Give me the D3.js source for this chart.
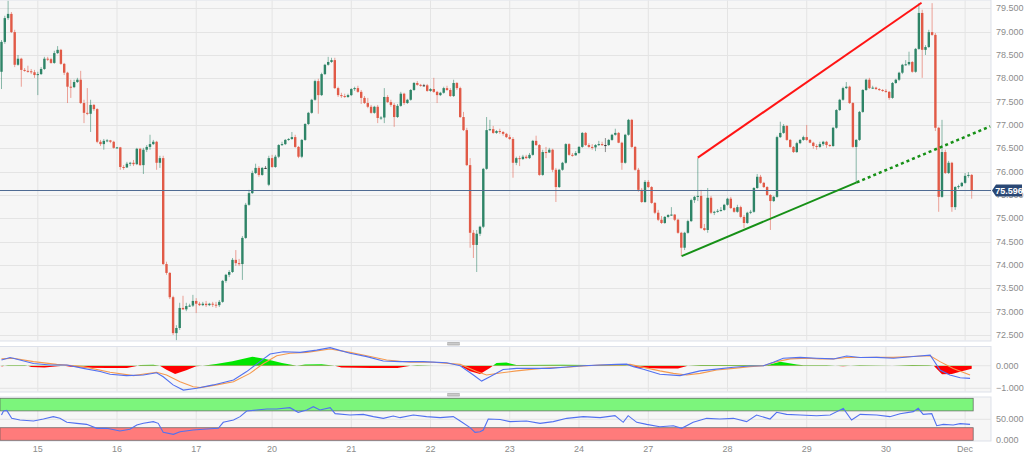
<!DOCTYPE html>
<html><head><meta charset="utf-8">
<script src="https://cdn.jsdelivr.net/npm/d3@7"></script>
<style>
html,body{margin:0;padding:0;background:#fff;}
svg{display:block;font-family:"Liberation Sans",Arial,sans-serif;}
</style></head><body>
<svg id="c" width="1024" height="455"></svg>
<script>
const openP = [
78.14,78.78,79.29,79.38,78.99,78.29,78.42,78.18,78.16,78.15,
78.13,78.07,78.09,78.20,78.42,78.41,78.33,78.54,78.61,78.31,
78.12,77.82,77.81,77.92,77.97,77.47,77.26,77.24,77.43,77.34,
76.64,76.59,76.66,76.67,76.64,76.51,76.52,76.10,76.09,76.17,
76.19,76.16,76.49,76.14,76.47,76.53,76.59,76.64,76.19,76.29,
74.02,73.83,73.31,72.54,72.65,73.08,73.05,73.12,73.13,73.23,
73.17,73.14,73.17,73.14,73.17,73.15,73.14,73.21,73.66,73.79,
73.85,74.11,74.04,74.02,74.58,75.29,75.54,75.97,76.08,75.93,
76.08,75.72,76.29,76.10,76.32,76.57,76.59,76.68,76.70,76.74,
76.53,76.32,76.68,77.02,77.26,77.54,77.94,77.64,78.09,78.29,
78.35,78.39,77.79,77.64,77.62,77.60,77.64,77.77,77.79,77.71,
77.58,77.47,77.39,77.26,77.39,77.15,77.16,77.60,77.49,77.43,
77.17,77.41,77.67,77.47,77.54,77.75,77.90,77.86,77.85,77.85,
77.73,77.77,77.71,77.64,77.69,77.79,77.75,77.62,77.90,77.79,
77.17,76.89,76.14,74.69,74.43,74.67,74.82,76.06,76.89,76.91,
76.83,76.87,76.85,76.81,76.74,76.70,76.19,76.29,76.27,76.32,
76.29,76.36,76.66,76.57,75.93,76.42,76.41,76.47,76.04,75.67,
76.04,76.19,76.59,76.36,76.35,76.40,76.53,76.83,76.57,76.53,
76.52,76.57,76.59,76.57,76.57,76.68,76.79,76.83,76.62,76.19,
76.79,77.11,76.53,76.04,75.61,75.35,75.78,75.67,75.33,75.12,
74.97,74.90,75.03,75.07,75.08,74.97,74.69,74.37,74.69,74.94,
75.39,75.46,75.48,74.79,74.75,75.44,75.12,75.14,75.16,75.18,
75.29,75.42,75.22,75.14,75.24,75.03,74.90,75.12,75.14,75.65,
75.89,75.76,75.67,75.50,75.37,75.46,76.74,76.83,76.98,76.68,
76.53,76.42,76.61,76.68,76.74,76.68,76.62,76.55,76.53,76.59,
76.64,76.57,76.55,76.94,77.32,77.54,77.79,77.82,77.47,76.53,
76.68,77.28,77.75,77.97,77.79,77.80,77.77,77.75,77.73,77.71,
77.58,77.90,77.97,78.12,78.29,78.30,78.35,78.14,78.63,79.40,
78.61,78.67,78.99,78.93,76.94,75.46,76.42,75.97,76.19,75.24,
75.67,75.69,75.76,75.91,75.93];
const highP = [
78.82,79.34,79.66,79.42,79.04,78.50,78.44,78.22,78.27,78.20,
78.18,78.14,78.24,78.46,78.46,78.44,78.59,78.69,78.63,78.33,
78.14,77.97,77.97,78.01,78.16,77.54,77.79,77.54,77.45,77.36,
76.68,76.70,76.70,76.68,76.66,76.53,76.53,76.14,76.21,76.21,
76.25,76.51,76.51,76.51,76.57,76.79,76.68,76.66,76.34,76.34,
74.07,73.85,73.34,72.71,73.19,73.34,73.19,73.17,73.36,73.29,
73.21,73.21,73.23,73.19,73.21,73.21,73.25,73.68,73.81,73.89,
74.15,74.32,74.13,74.62,75.33,75.61,76.02,76.17,76.12,76.10,
76.12,76.34,76.36,76.36,76.59,76.64,76.70,76.72,76.85,76.79,
76.55,76.70,77.04,77.28,77.56,77.97,77.99,78.12,78.31,78.46,
78.44,78.44,77.82,77.69,77.67,77.67,77.79,77.82,77.84,77.75,
77.62,77.58,77.43,77.41,77.43,77.19,77.79,77.64,77.54,77.47,
77.45,77.71,77.69,77.56,77.77,77.92,77.94,77.88,77.88,77.88,
77.79,78.01,77.73,77.71,77.82,77.84,77.79,77.97,77.92,77.82,
77.28,76.94,76.29,74.75,74.75,74.84,76.08,77.17,77.11,76.98,
76.89,76.92,76.87,76.83,76.79,76.74,76.32,76.34,76.36,76.36,
76.40,76.68,76.77,76.59,76.47,76.53,76.51,76.49,76.08,76.06,
76.21,76.61,76.61,76.40,76.44,76.55,76.85,76.85,76.61,76.59,
76.59,76.66,76.64,76.72,76.70,76.81,76.92,76.85,76.64,76.81,
77.13,77.13,76.55,76.08,75.65,75.82,75.82,75.69,75.35,75.18,
75.05,75.05,75.09,75.24,75.09,74.99,74.71,74.71,74.97,75.42,
75.48,76.29,75.61,74.88,75.65,75.48,75.16,75.20,75.24,75.31,
75.44,75.46,75.24,75.29,75.27,75.07,75.14,75.18,75.67,75.95,
75.93,75.78,75.69,75.52,75.48,76.77,77.07,77.02,77.00,76.70,
76.55,76.64,76.70,76.77,77.00,76.70,76.64,76.59,76.64,76.66,
76.66,76.59,76.96,77.34,77.56,77.82,77.92,77.84,77.49,76.70,
77.30,77.77,77.99,78.01,77.84,77.82,77.79,77.77,77.77,77.73,
77.92,77.99,78.14,78.31,78.39,78.57,78.37,78.65,79.61,79.47,
78.71,79.04,79.61,78.97,76.96,77.11,76.47,76.23,76.21,75.69,
75.72,75.78,75.97,75.99,75.95];
const lowP = [
77.77,78.74,79.25,78.97,78.24,78.27,77.82,78.14,78.12,78.09,
78.01,77.64,78.07,78.18,78.37,78.31,78.31,78.52,78.29,78.07,
77.47,77.58,77.79,77.90,77.45,77.04,77.21,76.85,77.30,76.61,
76.55,76.47,76.63,76.61,76.49,76.49,76.04,76.04,76.08,76.12,
76.12,76.14,76.12,75.95,76.42,76.47,76.57,76.04,76.08,74.00,
73.79,73.27,72.50,72.39,72.61,73.04,73.01,73.10,73.10,72.97,
73.12,73.12,73.10,73.12,73.10,73.08,73.10,73.19,73.62,73.74,
73.83,73.98,73.98,73.68,74.56,75.27,75.52,75.95,75.89,75.91,
76.06,75.69,76.08,76.08,76.29,76.55,76.57,76.66,76.68,76.51,
76.29,76.29,76.66,77.00,77.24,77.52,77.24,77.62,78.07,78.27,
78.33,77.77,77.60,77.58,77.58,77.58,77.62,77.73,77.69,77.45,
77.45,77.36,77.24,77.24,77.04,77.11,77.04,77.47,77.39,76.96,
77.15,77.39,77.43,77.45,77.52,77.73,77.84,77.82,77.82,77.71,
77.71,77.69,77.47,77.62,77.67,77.73,77.60,77.60,77.75,77.15,
76.87,76.12,74.37,74.15,73.85,74.62,74.79,76.04,76.87,76.81,
76.81,76.81,76.77,76.72,76.68,75.87,76.14,76.12,76.25,76.27,
76.27,76.34,76.55,75.91,75.91,76.29,76.40,75.99,75.35,75.65,
76.02,76.17,76.34,76.32,76.34,76.38,76.51,76.55,76.51,76.47,
76.44,76.55,76.55,76.42,76.55,76.66,76.77,76.61,76.04,76.17,
76.77,76.51,76.02,75.57,75.33,75.33,75.65,75.31,75.09,74.94,
74.88,74.88,75.01,75.05,74.94,74.67,74.19,74.32,74.67,74.92,
75.33,75.37,74.77,74.73,74.69,75.09,75.07,75.12,75.14,75.16,
75.27,75.20,75.12,75.12,75.01,74.79,74.88,75.09,75.12,75.63,
75.74,75.65,75.48,74.75,75.35,75.44,76.72,76.81,76.66,76.51,
76.40,76.40,76.59,76.66,76.66,76.61,76.49,76.47,76.51,76.55,
76.51,76.53,76.53,76.92,77.30,77.52,77.77,77.45,76.51,75.76,
76.66,77.26,77.73,77.77,77.77,77.75,77.73,77.71,77.69,77.54,
77.56,77.88,77.94,78.09,78.27,78.27,78.12,78.12,78.61,78.01,
78.50,78.65,78.91,76.87,75.14,75.44,75.95,75.95,75.14,75.18,
75.63,75.67,75.74,75.87,75.42];
const closeP = [
78.78,79.29,79.38,78.99,78.29,78.42,78.18,78.16,78.15,78.13,
78.07,78.09,78.20,78.42,78.41,78.33,78.54,78.61,78.31,78.12,
77.82,77.81,77.92,77.97,77.47,77.26,77.24,77.43,77.34,76.64,
76.59,76.66,76.67,76.64,76.51,76.52,76.10,76.09,76.17,76.19,
76.16,76.49,76.14,76.47,76.53,76.59,76.64,76.19,76.29,74.02,
73.83,73.31,72.54,72.65,73.08,73.05,73.12,73.13,73.23,73.17,
73.14,73.17,73.14,73.17,73.15,73.14,73.21,73.66,73.79,73.85,
74.11,74.04,74.02,74.58,75.29,75.54,75.97,76.08,75.93,76.08,
76.08,76.29,76.10,76.32,76.57,76.59,76.68,76.70,76.74,76.53,
76.32,76.68,77.02,77.26,77.54,77.94,77.64,78.09,78.29,78.35,
78.39,77.79,77.64,77.62,77.60,77.64,77.77,77.79,77.71,77.58,
77.47,77.39,77.26,77.39,77.15,77.16,77.60,77.49,77.43,77.17,
77.41,77.67,77.47,77.54,77.75,77.90,77.86,77.85,77.85,77.73,
77.77,77.71,77.64,77.69,77.79,77.75,77.62,77.90,77.79,77.17,
76.89,76.14,74.69,74.43,74.67,74.82,76.06,76.89,76.91,76.83,
76.87,76.85,76.81,76.74,76.70,76.19,76.29,76.27,76.32,76.29,
76.36,76.66,76.57,75.93,76.42,76.41,76.47,76.04,75.67,76.04,
76.19,76.59,76.36,76.35,76.40,76.53,76.83,76.57,76.53,76.52,
76.57,76.59,76.57,76.57,76.68,76.79,76.83,76.62,76.19,76.79,
77.11,76.53,76.04,75.61,75.35,75.78,75.67,75.33,75.12,74.97,
74.90,75.03,75.07,75.08,74.97,74.69,74.37,74.69,74.94,75.39,
75.46,75.48,74.79,74.75,75.44,75.12,75.14,75.16,75.18,75.29,
75.42,75.22,75.14,75.24,75.03,74.90,75.12,75.14,75.65,75.89,
75.76,75.67,75.50,75.37,75.46,76.74,76.83,76.98,76.68,76.53,
76.42,76.61,76.68,76.74,76.68,76.62,76.55,76.53,76.59,76.64,
76.57,76.55,76.94,77.32,77.54,77.79,77.82,77.47,76.53,76.68,
77.28,77.75,77.97,77.79,77.80,77.77,77.75,77.73,77.71,77.58,
77.90,77.97,78.12,78.29,78.30,78.35,78.14,78.63,79.40,78.61,
78.67,78.99,78.93,76.94,75.46,76.42,75.97,76.19,75.24,75.67,
75.69,75.76,75.91,75.93,75.596];

const dayTickIdx = [11,35,59,82,106,130,154,175,196,220,244,268,292];
const dayTickLabels = ["15","16","17","20","21","22","23","24","27","28","29","30","Dec"];
const priceTicks = [72.5,73,73.5,74,74.5,75,75.5,76,76.5,77,77.5,78,78.5,79,79.5];
const macdTicks = [0,-1];
const rsiTicks = [50,0];
const lastPrice = 75.596;

// trend lines: [candle index, price]
const upperLine = [[211,76.30],[278.8,79.62]];
const lowerLine = [[206.1,74.19],[259.15,75.77]];
const lowerExt = [[259.15,75.77],[299.6,76.97]];

const macdLine = [[0,0.25],[2.6,0.36],[5.6,0.25],[9.7,0.10],[14.7,0.03],[19.8,0.03],[24.8,-0.12],[29.9,-0.26],[32.9,-0.38],[37.9,-0.44],[43,-0.41],[47,-0.31],[49,-0.49],[52,-0.85],[55.1,-1.08],[59.2,-1.00],[64.2,-0.85],[70.3,-0.63],[74.3,-0.26],[78.3,0.18],[81.4,0.52],[85.4,0.62],[90.5,0.59],[95.5,0.69],[99.6,0.80],[105.6,0.55],[110.7,0.40],[115.7,0.21],[120.8,0.18],[127.8,0.18],[134.9,0.13],[139,0],[143,-0.41],[145.5,-0.68],[148,-0.49],[152,-0.17],[156.1,-0.12],[161.2,-0.12],[166.2,-0.12],[171.3,-0.06],[176.3,0],[181.4,0.03],[186.4,0.06],[189.4,0.07],[191.5,-0.04],[194.5,-0.16],[199.5,-0.38],[205.6,-0.44],[211.7,-0.23],[216.7,-0.15],[221.8,-0.07],[226.8,-0.01],[230.9,0],[233.9,0.15],[236.9,0.33],[242,0.37],[247,0.33],[252.1,0.30],[256.1,0.43],[260.2,0.36],[265.2,0.37],[270.3,0.33],[277.3,0.42],[281.4,0.47],[282.4,0.25],[284.4,-0.19],[287.4,-0.41],[290.5,-0.53],[293.5,-0.56]];
const signalLine = [[0,0.30],[3.6,0.33],[9.7,0.18],[16.7,0.06],[24.8,-0.04],[32.9,-0.29],[40,-0.44],[47,-0.29],[50,-0.41],[54.1,-0.71],[58.1,-0.93],[60.2,-0.97],[65.2,-0.85],[70.3,-0.71],[75.3,-0.34],[79.4,0.10],[83.4,0.44],[87.4,0.55],[92.5,0.59],[99.6,0.74],[105.6,0.59],[110.7,0.44],[116.7,0.25],[123.8,0.15],[130.9,0.15],[139,0.06],[144,-0.26],[147,-0.41],[151.1,-0.32],[156.1,-0.23],[161.2,-0.15],[166.2,-0.09],[171.3,-0.07],[176.3,-0.01],[181.4,0.03],[186.4,0.03],[190.5,0.06],[193.5,-0.04],[199.5,-0.23],[203.6,-0.34],[207.6,-0.41],[211.7,-0.34],[216.7,-0.19],[221.8,-0.12],[226.8,-0.04],[230.9,0],[234.9,0.18],[239,0.30],[244,0.33],[248,0.30],[252.1,0.30],[256.1,0.36],[260.2,0.36],[265.2,0.37],[270.3,0.37],[277.3,0.42],[281.4,0.44],[284.4,0.18],[288.4,-0.12],[293.5,-0.41]];
const histSamples = [[0,-0.03],[1,0],[2,0.02],[7,0.02],[8,0],[9,-0.06],[13,-0.08],[17,-0.02],[19,0],[21,-0.05],[26,-0.09],[32,-0.10],[38,-0.10],[41,-0.01],[42,0.03],[46,0.04],[48,0],[50,-0.18],[52.6,-0.37],[56,-0.2],[59,-0.02],[61,0],[65,0.07],[70,0.2],[76,0.40],[80,0.3],[85,0.12],[89.5,0],[92,0.05],[97,0.06],[101,0],[103,-0.08],[112,-0.10],[120,-0.10],[124,0],[126,0.02],[131,0],[139,0],[142,-0.25],[145,-0.37],[148,-0.1],[150,0.12],[153,0.14],[156,0.03],[170,0.04],[178,0.03],[189,0.02],[191,0],[193,-0.09],[200,-0.12],[205,-0.12],[208,0],[212,0.03],[225,0.03],[232,0.02],[236,0.18],[241,0.05],[243,0.02],[250,0.02],[255,-0.02],[260,0.02],[270,0],[276,0.03],[281,0.02],[282.5,0],[285,-0.38],[288,-0.37],[291,-0.25],[294,-0.14]];
const rsiLine = [[0,60.2],[0.6,69.7],[1.6,71.3],[3.1,52.3],[5.6,48.3],[9.7,45.9],[12.7,50.7],[15.7,56.3],[17.7,52.3],[19.8,42.8],[22.8,40.4],[25.8,38.0],[28.9,28.5],[31.9,28.5],[35.9,22.1],[38.9,26.1],[41,36.4],[43,40.4],[46,44.4],[47.5,40.4],[49,19.0],[52.1,14.2],[54.1,20.5],[58.1,24.5],[62.2,26.9],[65.7,28.5],[67.2,42.8],[70.3,48.3],[72.3,56.3],[74.3,69.7],[77.3,72.1],[80.4,74.5],[83.4,74.5],[87.4,77.7],[89.9,66.6],[92.5,72.1],[94.5,80.1],[96.5,72.1],[99.6,77.7],[101.1,63.4],[105.6,60.2],[109.6,61.8],[112.7,56.3],[115.7,52.3],[118.7,57.8],[120.8,53.9],[124.8,60.2],[128.8,56.3],[132.9,53.9],[136.9,56.3],[139,45.9],[142,30.1],[143.5,19.0],[145,20.5],[146,24.5],[147.5,50.7],[151.1,49.5],[154.1,44.4],[159.1,45.9],[163.2,40.4],[167.2,44.4],[171.3,52.3],[176.3,56.3],[181.4,53.9],[185.9,58.6],[188.4,42.8],[189.9,58.6],[192.5,42.8],[195.5,38.0],[199.5,32.4],[203.6,34.8],[206.1,28.5],[209.6,42.8],[213.7,52.3],[217.7,50.7],[221.8,52.3],[225.8,44.4],[228.8,60.2],[232.9,50.7],[234.9,66.6],[237.9,61.8],[242,60.2],[247,58.6],[251.1,60.2],[255.1,76.1],[257.6,48.3],[260.2,61.8],[265.2,60.2],[269.2,56.3],[272.3,63.4],[276.3,68.2],[277.8,76.1],[279.3,61.8],[281.9,63.4],[283.4,34.8],[285.4,38.0],[288.4,36.4],[290.5,39.6],[293.5,38.0]];
const rsiBands = [[70,100,"#7cf57c"],[0,30,"#ff7b7b"]];

// ---------------- drawing ----------------
const svg = d3.select("#c");
const PR = 991;
const mainP = {top:0,bottom:341};
const macdP = {top:346.5,bottom:392};
const rsiP = {top:397,bottom:441};
const n = closeP.length;
const x = d3.scaleLinear().domain([0,294]).range([1.5,971.7]);
const y = d3.scaleLinear().domain([72.5,79.5]).range([335,8.3]);
const ym = d3.scaleLinear().domain([-1,0]).range([388.3,365.7]);
const yr = d3.scaleLinear().domain([0,100]).range([440.3,398.3]);
const UP="#2e8467", DN="#e15a47", GRID="#e4e4e4", LBL="#8c8c8c";

const defs = svg.append("defs");
[["cMain",mainP],["cMacd",macdP],["cRsi",rsiP]].forEach(([id,p])=>{
  defs.append("clipPath").attr("id",id).append("rect").attr("x",0).attr("y",p.top).attr("width",PR).attr("height",p.bottom-p.top);
});
defs.append("clipPath").attr("id","cPos").append("rect").attr("x",0).attr("y",macdP.top).attr("width",PR).attr("height",ym(0)-macdP.top);
defs.append("clipPath").attr("id","cNeg").append("rect").attr("x",0).attr("y",ym(0)).attr("width",PR).attr("height",macdP.bottom-ym(0));

[mainP,macdP,rsiP].forEach(p=>{
  svg.append("rect").attr("x",-1).attr("y",p.top).attr("width",PR+1).attr("height",p.bottom-p.top)
    .attr("fill","#f6f6f6").attr("stroke","#dde1ea").attr("stroke-width",1);
});

// grips
[343.7,394.7].forEach(gy=>{
  svg.append("rect").attr("x",447).attr("y",gy-1.8).attr("width",13).attr("height",3.6).attr("rx",1).attr("fill","#b9b9b9");
  svg.append("line").attr("x1",447).attr("x2",460).attr("y1",gy).attr("y2",gy).attr("stroke","#dedede").attr("stroke-width",0.6);
});

// vertical day gridlines
[mainP,macdP,rsiP].forEach(p=>{
  svg.append("g").selectAll("line").data(dayTickIdx).join("line")
    .attr("x1",d=>x(d)).attr("x2",d=>x(d)).attr("y1",p.top+0.5).attr("y2",p.bottom-0.5)
    .attr("stroke",GRID).attr("stroke-width",1);
});
// horizontal price gridlines
svg.append("g").selectAll("line").data(priceTicks).join("line")
  .attr("x1",0).attr("x2",PR).attr("y1",d=>Math.round(y(d))+0.5).attr("y2",d=>Math.round(y(d))+0.5)
  .attr("stroke",GRID).attr("stroke-width",1);
svg.append("g").selectAll("line").data(macdTicks).join("line")
  .attr("x1",0).attr("x2",PR).attr("y1",d=>ym(d)).attr("y2",d=>ym(d)).attr("stroke",GRID);
svg.append("g").selectAll("line").data(rsiTicks.filter(d=>d>0)).join("line")
  .attr("x1",0).attr("x2",PR).attr("y1",d=>yr(d)).attr("y2",d=>yr(d)).attr("stroke",GRID);

// candles
const gC = svg.append("g").attr("clip-path","url(#cMain)");
const idx = d3.range(n);
const col = i => closeP[i]>openP[i]?UP:(closeP[i]<openP[i]?DN:"#333");
gC.selectAll("line.w").data(idx).join("line").attr("class","w")
  .attr("x1",i=>x(i)).attr("x2",i=>x(i)).attr("y1",i=>y(highP[i])).attr("y2",i=>y(lowP[i]))
  .attr("stroke",col).attr("stroke-opacity",0.55).attr("stroke-width",1);
gC.selectAll("rect.b").data(idx).join("rect").attr("class","b")
  .attr("x",i=>x(i)-1.2).attr("width",2.4)
  .attr("y",i=>y(Math.max(openP[i],closeP[i])))
  .attr("height",i=>Math.max(1,Math.abs(y(openP[i])-y(closeP[i]))))
  .attr("fill",col);

// current price line
svg.append("line").attr("x1",0).attr("x2",PR).attr("y1",y(lastPrice)).attr("y2",y(lastPrice))
  .attr("stroke","#4f6b93").attr("stroke-width",1);

// trend lines
const tl = d3.line().x(d=>x(d[0])).y(d=>y(d[1]));
const gT = svg.append("g").attr("clip-path","url(#cMain)");
gT.append("path").attr("d",tl(upperLine)).attr("stroke","#ff1414").attr("stroke-width",2).attr("fill","none");
gT.append("path").attr("d",tl(lowerLine)).attr("stroke","#169016").attr("stroke-width",2).attr("fill","none");
gT.append("path").attr("d",tl(lowerExt)).attr("stroke","#169016").attr("stroke-width",2.5).attr("stroke-dasharray","3,3").attr("fill","none");

// MACD histogram
const ha = d3.area().x(d=>x(d[0])).y0(ym(0)).y1(d=>ym(d[1]));
const gM = svg.append("g").attr("clip-path","url(#cMacd)");
gM.append("g").attr("clip-path","url(#cPos)").append("path").attr("d",ha(histSamples)).attr("fill","#00e600");
gM.append("g").attr("clip-path","url(#cNeg)").append("path").attr("d",ha(histSamples)).attr("fill","#ff0000");
const ml = d3.line().x(d=>x(d[0])).y(d=>ym(d[1]));
gM.append("path").attr("d",ml(signalLine)).attr("stroke","#f59a4e").attr("stroke-width",1.1).attr("fill","none");
gM.append("path").attr("d",ml(macdLine)).attr("stroke","#5271f0").attr("stroke-width",1.1).attr("fill","none");

// RSI
const gR = svg.append("g").attr("clip-path","url(#cRsi)");
rsiBands.forEach(([a,b,c])=>{
  gR.append("rect").attr("x",0).attr("width",x(294)+1.5).attr("y",yr(b)).attr("height",yr(a)-yr(b))
    .attr("fill",c).attr("stroke","#555").attr("stroke-width",0.8).attr("stroke-opacity",0.8);
});
const rl = d3.line().x(d=>x(d[0])).y(d=>yr(d[1]));
gR.append("path").attr("d",rl(rsiLine)).attr("stroke","#5271f0").attr("stroke-width",1.1).attr("fill","none");

// axis labels
const fmt = d3.format(".3f");
svg.append("g").selectAll("text").data(priceTicks).join("text")
  .attr("x",996).attr("y",d=>y(d)).attr("dy","0.35em").attr("font-size",9).attr("fill",LBL).text(fmt);
svg.append("g").selectAll("text").data(macdTicks).join("text")
  .attr("x",996).attr("y",d=>ym(d)).attr("dy","0.35em").attr("font-size",9).attr("fill",LBL).text(fmt);
svg.append("g").selectAll("text").data(rsiTicks).join("text")
  .attr("x",996).attr("y",d=>yr(d)).attr("dy","0.35em").attr("font-size",9).attr("fill",LBL).text(fmt);
svg.append("g").selectAll("text").data(dayTickIdx).join("text")
  .attr("x",d=>x(d)).attr("y",449).attr("dy","0.35em").attr("text-anchor","middle")
  .attr("font-size",9).attr("fill",LBL).text((d,i)=>dayTickLabels[i]);

// last price tag
const ly = y(lastPrice);
svg.append("path").attr("d",`M992,${ly} L996,${ly-6} L1022,${ly-6} L1022,${ly+6} L996,${ly+6} Z`).attr("fill","#2a4875");
svg.append("text").attr("x",1009).attr("y",ly).attr("dy","0.35em").attr("text-anchor","middle")
  .attr("font-size",9).attr("font-weight","bold").attr("fill","#fff").text(fmt(lastPrice));
</script>
</body></html>
